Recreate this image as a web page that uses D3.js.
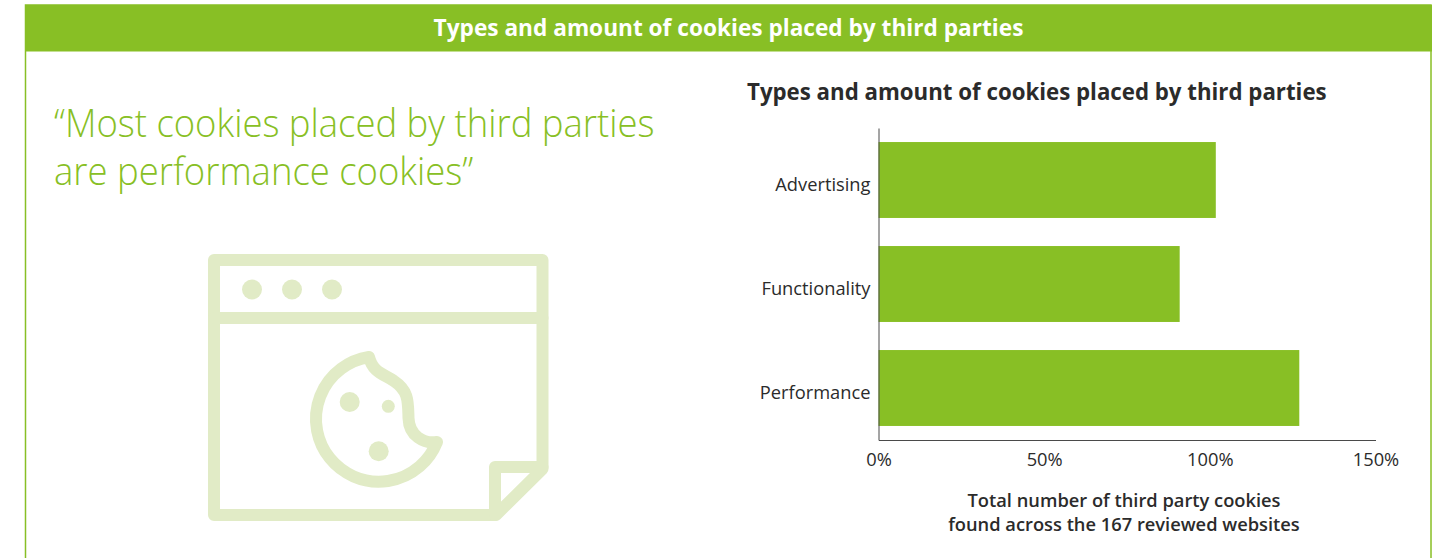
<!DOCTYPE html>
<html>
<head>
<meta charset="utf-8">
<script src="https://cdn.jsdelivr.net/npm/d3@7/dist/d3.min.js"></script>
<style>
html,body{margin:0;padding:0;background:#fff;overflow:hidden}
text{font-family:"Open Sans",sans-serif}
</style>
</head>
<body>
<svg id="chart" width="1442" height="558"></svg>
<script>
// Cookie categories and their share, in percent
const categories = ["Advertising", "Functionality", "Performance"];
const shares = [101.8, 90.9, 127];
const xTicks = [0, 50, 100, 150];
const heading = "Types and amount of cookies placed by third parties";
const quoteLines = ["“Most cookies placed by third parties", "are performance cookies”"];
const axisNoteLines = ["Total number of third party cookies", "found across the 167 reviewed websites"];

const GREEN = "#88bf25", PALE = "#e1ebc6", INK = "#2b2b2b";
const svg = d3.select("#chart");

// Panel frame and banner
svg.append("rect").attr("x", 25.5).attr("y", 5).attr("width", 1405.5).attr("height", 560)
  .attr("fill", "none").attr("stroke", GREEN).attr("stroke-width", 1.5);
svg.append("rect").attr("x", 25).attr("y", 5).attr("width", 1407).attr("height", 46.5).attr("fill", GREEN);
svg.append("text").attr("x", 728.5).attr("y", 36).attr("text-anchor", "middle")
  .attr("fill", "#fff").attr("font-size", 22.65).attr("font-weight", 700).text(heading);

// Pull quote, set slightly condensed
svg.append("g").attr("transform", "translate(54,0) scale(0.947,1)")
  .selectAll("text").data(quoteLines).join("text")
  .attr("x", 0).attr("y", (d, i) => 137 + i * 48)
  .attr("fill", GREEN).attr("font-size", 38.5).attr("font-weight", 300).text(d => d);

// Browser-window cookie icon
const icon = svg.append("g").attr("fill", "none").attr("stroke", PALE)
  .attr("stroke-width", 12).attr("stroke-linejoin", "round").attr("stroke-linecap", "round");
icon.append("path").attr("d", "M214 260H542.5V469L496 515H214Z");
icon.append("path").attr("d", "M214 318H542.5");
icon.append("path").attr("d", "M495 515V467H542.5");
icon.append("path").attr("d", "M369 357A62.7 62.7 0 1 0 437 442C424 444 409 436 408.5 418C408 402 409 391 394 381C384 374 373 373 369 357Z");
const dots = svg.append("g").attr("fill", PALE);
[[252, 289.5, 10], [292, 289.5, 10], [332, 289.5, 10], [349.7, 402, 10], [388.3, 406.3, 6.5], [378.7, 451.3, 10]]
  .forEach(c => dots.append("circle").attr("cx", c[0]).attr("cy", c[1]).attr("r", c[2]));

// Bar chart
svg.append("text").attr("x", 747).attr("y", 100).attr("fill", INK)
  .attr("font-size", 22.25).attr("font-weight", 700).text(heading);

const x = d3.scaleLinear().domain([0, 150]).range([878.5, 1375.5]);
const y = d3.scaleBand().domain(categories).range([128, 440]).paddingInner(0.27).paddingOuter(0.135);

svg.append("g").selectAll("rect").data(categories).join("rect")
  .attr("x", x(0)).attr("y", d => y(d)).attr("height", y.bandwidth())
  .attr("width", (d, i) => x(shares[i]) - x(0)).attr("fill", GREEN);

const xAxis = svg.append("g").attr("transform", "translate(0,440)")
  .call(d3.axisBottom(x).tickValues(xTicks).tickFormat(d => d + "%").tickSize(0).tickPadding(13));
const yAxis = svg.append("g").attr("transform", "translate(878.5,0)")
  .call(d3.axisLeft(y).tickSize(0).tickPadding(8));
[xAxis, yAxis].forEach(a => {
  a.select(".domain").attr("stroke", "#4a4a4a").attr("stroke-width", 1);
  a.selectAll("text").attr("fill", INK).attr("font-size", 18.3).attr("font-family", '"Open Sans",sans-serif');
});
yAxis.selectAll("text").attr("dy", "0.58em");

svg.append("g").selectAll("text").data(axisNoteLines).join("text")
  .attr("x", 1124).attr("y", (d, i) => 506.5 + i * 24).attr("text-anchor", "middle")
  .attr("fill", INK).attr("font-size", 18.3).attr("font-weight", 600).text(d => d);
</script>
</body>
</html>
